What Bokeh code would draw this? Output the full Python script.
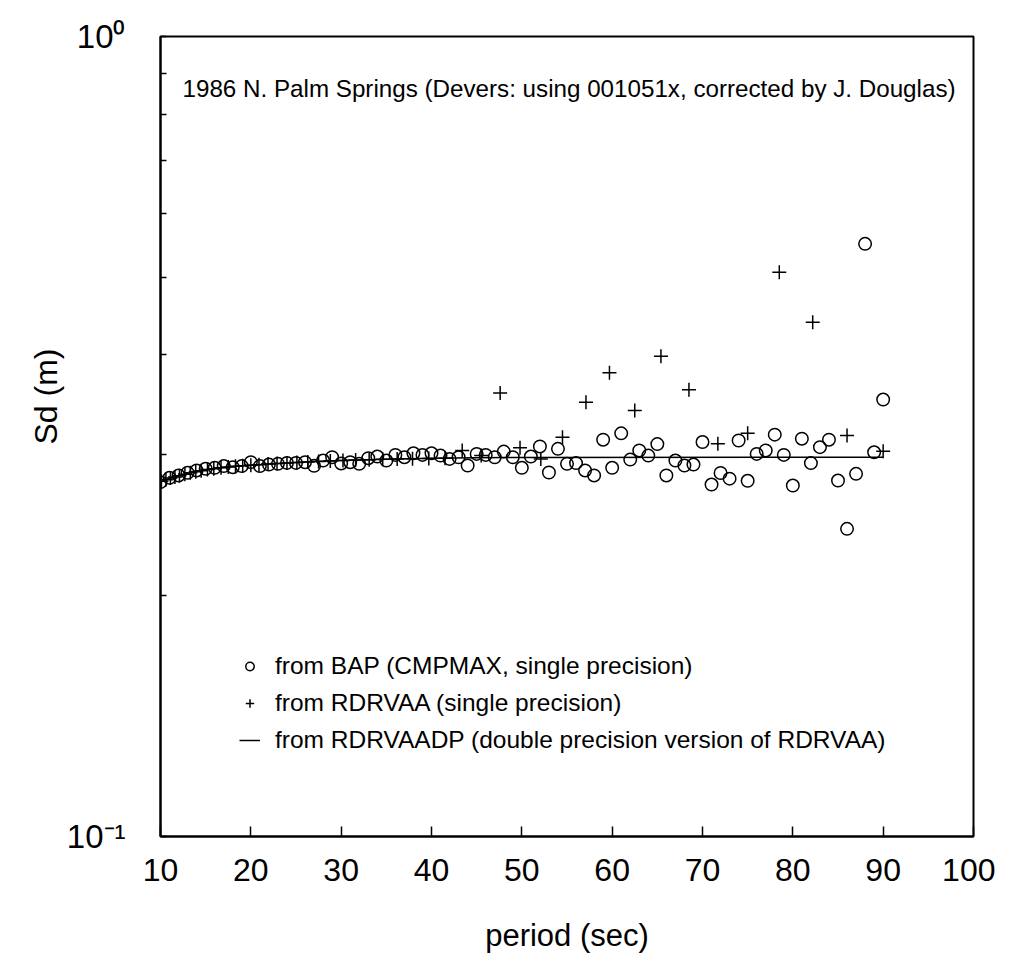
from bokeh.plotting import figure
from bokeh.models import Range1d, FixedTicker, Legend, LegendItem, Label
from bokeh.embed import file_html
from bokeh.resources import INLINE

FONT = "Liberation Sans"

# BAP (CMPMAX, single precision) -- circles
bap_period = [10, 11, 12, 13, 14, 15, 16, 17, 18, 19, 20, 21, 22, 23, 24, 25, 26, 27, 28, 29,
              30, 31, 32, 33, 34, 35, 36, 37, 38, 39, 40, 41, 42, 43, 44, 45, 46, 47, 48, 49,
              50, 51, 52, 53, 54, 55, 56, 57, 58, 59, 60, 61, 62, 63, 64, 65, 66, 67, 68, 69,
              70, 71, 72, 73, 74, 75, 76, 77, 78, 79, 80, 81, 82, 83, 84, 85, 86, 87, 88, 89, 90]
bap_sd = [0.2773, 0.2808, 0.2827, 0.2849, 0.2868, 0.2882, 0.2890, 0.2904, 0.2895, 0.2904,
          0.2937, 0.2904, 0.2917, 0.2923, 0.2931, 0.2931, 0.2937, 0.2906, 0.2951, 0.2979,
          0.2926, 0.2937, 0.2923, 0.2971, 0.2985, 0.2951, 0.2999, 0.2979, 0.3013, 0.2999,
          0.3013, 0.2993, 0.2965, 0.2979, 0.2909, 0.3008, 0.2999, 0.2979, 0.3028, 0.2979,
          0.2890, 0.2985, 0.3073, 0.2851, 0.3052, 0.2923, 0.2929, 0.2868, 0.2827, 0.3133,
          0.2890, 0.3191, 0.2959, 0.3038, 0.2993, 0.3094, 0.2827, 0.2951, 0.2909, 0.2917,
          0.3112, 0.2754, 0.2847, 0.2801, 0.3126, 0.2784, 0.3008, 0.3038, 0.3179, 0.2999,
          0.2746, 0.3142, 0.2929, 0.3067, 0.3133, 0.2786, 0.2424, 0.2840, 0.5506, 0.3022, 0.3517]

# RDRVAA (single precision) -- plus signs
rdr_period = [10.1, 10.6, 11.1, 11.6, 12.1, 12.7, 13.3, 13.9, 14.5, 15.2, 15.9, 16.7, 17.5,
              18.3, 19.1, 20.0, 20.9, 21.9, 22.9, 24.0, 25.1, 26.3, 27.5, 28.8, 30.2, 31.6,
              33.1, 34.6, 36.2, 37.9, 39.7, 41.5, 43.4, 45.5, 47.6, 49.8, 52.1, 54.5, 57.1,
              59.7, 62.5, 65.4, 68.5, 71.7, 75.0, 78.5, 82.2, 86.0, 90.0]
rdr_sd = [0.2780, 0.2792, 0.2806, 0.2815, 0.2825, 0.2836, 0.2848, 0.2857, 0.2866, 0.2875,
          0.2882, 0.2890, 0.2896, 0.2902, 0.2906, 0.2911, 0.2916, 0.2921, 0.2925, 0.2930,
          0.2935, 0.2939, 0.2943, 0.2947, 0.2952, 0.2955, 0.2958, 0.2961, 0.2964, 0.2966,
          0.2969, 0.2971, 0.3038, 0.2994, 0.3585, 0.3062, 0.2965, 0.3156, 0.3490, 0.3799,
          0.3407, 0.3985, 0.3617, 0.3097, 0.3193, 0.5075, 0.4394, 0.3172, 0.3030]

# RDRVAADP (double precision) -- line
dp_period = [10, 11, 12, 13, 14, 15, 16, 17, 18, 19, 20, 22, 25, 27, 30, 35, 40, 45, 50, 90]
dp_sd = [0.2774, 0.2803, 0.2823, 0.2844, 0.2860, 0.2873, 0.2884, 0.2893, 0.2901, 0.2907,
         0.2912, 0.2922, 0.2935, 0.2943, 0.2951, 0.2962, 0.2970, 0.2975, 0.2977, 0.2979]

x_ticks = [10, 20, 30, 40, 50, 60, 70, 80, 90, 100]
y_major_ticks = [0.1, 1]
y_minor_ticks = [0.2, 0.3, 0.4, 0.5, 0.6, 0.7, 0.8, 0.9]
y_tick_labels = {0.1: "10\u207b\u00b9", 1: "10\u2070"}

p = figure(width=995, height=960, x_range=Range1d(10, 100), y_range=Range1d(0.1, 1),
           y_axis_type="log", output_backend="svg", toolbar_location=None,
           min_border_left=160, min_border_top=36, min_border_right=22, min_border_bottom=124)
p.grid.visible = False
p.outline_line_color = "black"
p.outline_line_width = 2
p.background_fill_color = "white"
p.border_fill_color = "white"

r_line = p.line(dp_period, dp_sd, line_color="black", line_width=1.5)
r_circ = p.scatter(bap_period, bap_sd, marker="circle", size=12.5, fill_color=None,
                   line_color="black", line_width=1.5)
r_plus = p.scatter(rdr_period, rdr_sd, marker="cross", size=14, line_color="black",
                   line_width=1.5)

xa = p.xaxis[0]
xa.ticker = FixedTicker(ticks=x_ticks)
xa.major_tick_in = 10
xa.major_tick_out = 0
xa.minor_tick_line_color = None
xa.axis_line_width = 2
xa.major_tick_line_width = 1.5
xa.major_label_text_font = FONT
xa.major_label_text_font_size = "32px"
xa.major_label_text_color = "black"
xa.major_label_standoff = 22
xa.axis_label = "period (sec)"
xa.axis_label_text_font = FONT
xa.axis_label_text_font_size = "31px"
xa.axis_label_text_font_style = "normal"
xa.axis_label_text_color = "black"
xa.axis_label_standoff = 34

ya = p.yaxis[0]
ya.ticker = FixedTicker(ticks=y_major_ticks, minor_ticks=y_minor_ticks)
ya.major_label_overrides = y_tick_labels
ya.major_tick_in = 6
ya.major_tick_out = 0
ya.minor_tick_in = 6
ya.minor_tick_out = 0
ya.axis_line_width = 2
ya.major_tick_line_width = 1.5
ya.minor_tick_line_width = 1.5
ya.major_label_text_font = FONT
ya.major_label_text_font_size = "33px"
ya.major_label_text_color = "black"
ya.major_label_standoff = 35
# leading no-break spaces lift the visible title a little above the frame centre
ya.axis_label = "\u00a0" * 9 + "Sd (m)"
ya.axis_label_text_font = FONT
ya.axis_label_text_font_size = "32px"
ya.axis_label_text_font_style = "normal"
ya.axis_label_text_color = "black"
ya.axis_label_standoff = 0

legend = Legend(items=[
    LegendItem(label="from BAP (CMPMAX, single precision)", renderers=[r_circ]),
    LegendItem(label="from RDRVAA (single precision)", renderers=[r_plus]),
    LegendItem(label="from RDRVAADP (double precision version of RDRVAA)", renderers=[r_line]),
], location=(79, 82), glyph_width=21, glyph_height=28, label_height=28, spacing=9,
    label_standoff=15, padding=0, margin=0, border_line_color=None,
    background_fill_alpha=0, label_text_font=FONT, label_text_font_size="24.5px",
    label_text_color="black")
p.add_layout(legend)

title = Label(x=22, y=748, x_units="screen", y_units="screen",
              text="1986 N. Palm Springs (Devers: using 001051x, corrected by J. Douglas)",
              text_font=FONT, text_font_size="24.2px", text_baseline="middle",
              text_color="black")
p.add_layout(title)

open("out.html", "w").write(file_html(p, INLINE))
